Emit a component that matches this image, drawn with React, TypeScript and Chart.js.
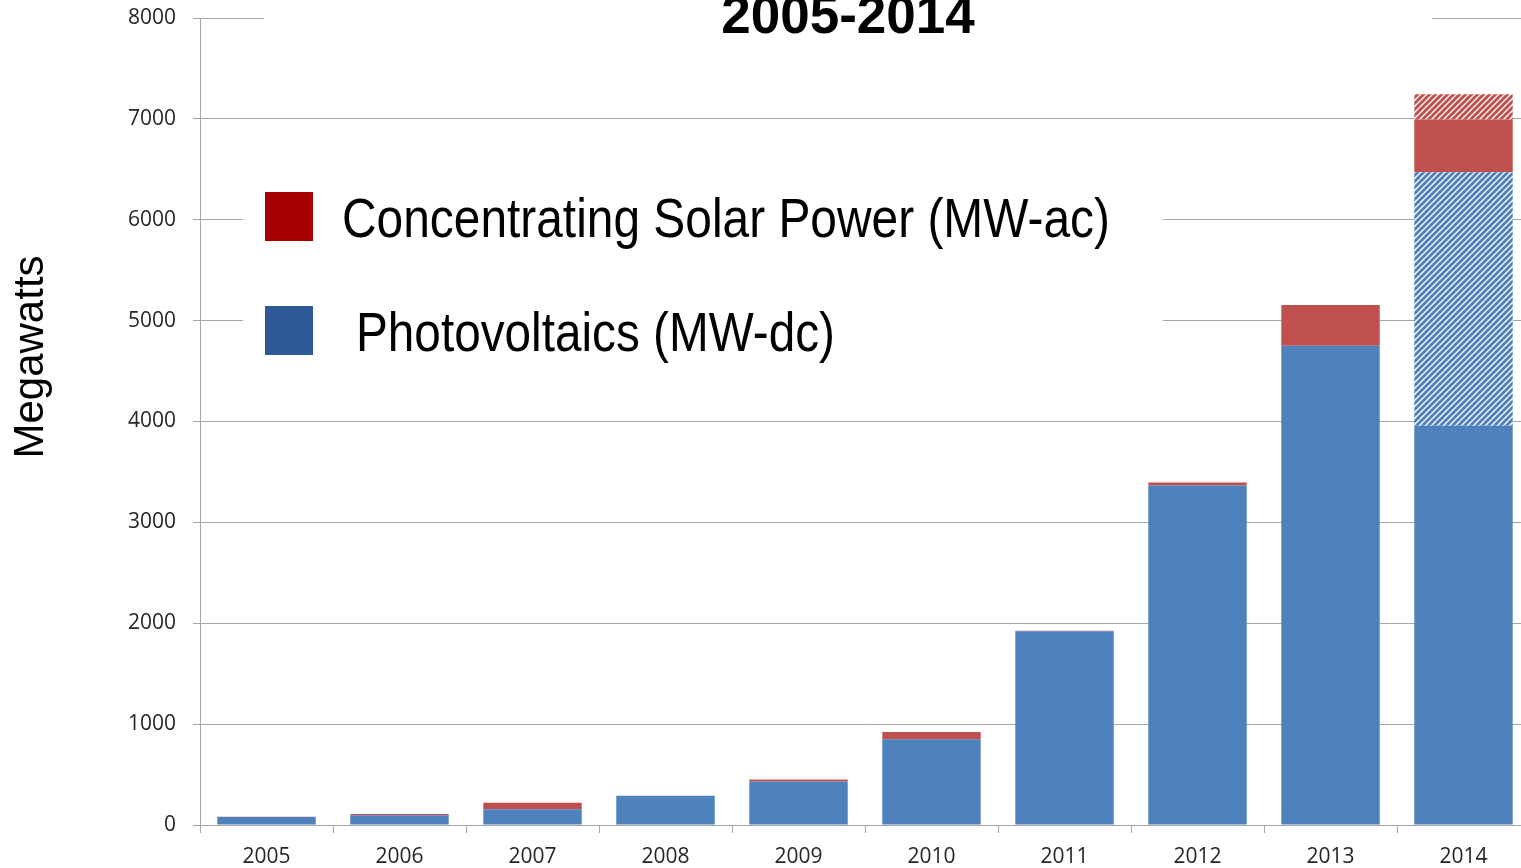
import React, { useEffect, useRef } from 'react';
import { Chart, registerables } from 'chart.js';

Chart.register(...registerables);

// ---------- data ----------
const years = ['2005', '2006', '2007', '2008', '2009', '2010', '2011', '2012', '2013', '2014'];
const pvInstalled = [80, 96, 155, 290, 430, 849, 1920, 3365, 4750, 3958];
const pvProjected = [0, 0, 0, 0, 0, 0, 0, 0, 0, 2512];
const cspInstalled = [1, 12, 65, 0, 20, 73, 5, 30, 404, 525];
const cspProjected = [0, 0, 0, 0, 0, 0, 0, 0, 0, 250];
const yMin = 0;
const yMax = 8000;
const yStep = 1000;
const titleText = '2005-2014';
const yAxisLabel = 'Megawatts';
const legendLabels = ['Concentrating Solar Power (MW-ac)', 'Photovoltaics (MW-dc)'];

// ---------- styles ----------
const PV_BLUE = '#4F81BD';
const CSP_RED = '#C0504D';
const LEGEND_RED = '#A50000';
const LEGEND_BLUE = '#2E5A98';
const GRID = '#A6A6A6';
const TICK_COLOR = '#262626';
const TICK_FONT = { family: '"Open Sans", "Liberation Sans", sans-serif', size: 21 };

function makeHatch(color: string): CanvasPattern | string {
  const s = 6;
  const c = document.createElement('canvas');
  c.width = s;
  c.height = s;
  const g = c.getContext('2d');
  if (!g) return color;
  g.fillStyle = '#ffffff';
  g.fillRect(0, 0, s, s);
  g.strokeStyle = color;
  g.lineWidth = 3;
  g.beginPath();
  g.moveTo(-1, s + 1);
  g.lineTo(s + 1, -1);
  g.moveTo(-s / 2 - 1, s / 2 + 1);
  g.lineTo(s / 2 + 1, -s / 2 - 1);
  g.moveTo(s / 2 - 1, s * 1.5 + 1);
  g.lineTo(s * 1.5 + 1, s / 2 - 1);
  g.stroke();
  return g.createPattern(c, 'repeat') || color;
}

function drawScaledText(ctx: CanvasRenderingContext2D, text: string, x: number, baseline: number, width: number) {
  const w = ctx.measureText(text).width;
  const sx = w > 0 ? width / w : 1;
  ctx.save();
  ctx.translate(x, baseline);
  ctx.scale(sx, 1);
  ctx.fillText(text, 0, 0);
  ctx.restore();
}

const decorPlugin = {
  id: 'decor',
  afterDraw(chart: any) {
    const ctx: CanvasRenderingContext2D = chart.ctx;
    ctx.save();

    // Title (partially clipped at top)
    ctx.fillStyle = '#ffffff';
    ctx.fillRect(264, 0, 1168, 36);
    ctx.fillStyle = '#000000';
    ctx.font = 'bold 53px "Liberation Sans", Arial, sans-serif';
    ctx.textAlign = 'center';
    ctx.textBaseline = 'alphabetic';
    ctx.fillText(titleText, 848, 33);

    // Y axis label
    ctx.save();
    ctx.translate(43, 357);
    ctx.rotate(-Math.PI / 2);
    ctx.font = '42px "Liberation Sans", Arial, sans-serif';
    ctx.textAlign = 'center';
    ctx.textBaseline = 'alphabetic';
    ctx.fillStyle = '#000000';
    ctx.fillText(yAxisLabel, 0, 0);
    ctx.restore();

    // Legend box
    ctx.fillStyle = '#ffffff';
    ctx.fillRect(243, 150, 920, 240);

    ctx.fillStyle = LEGEND_RED;
    ctx.fillRect(265, 192, 48, 49);
    ctx.fillStyle = LEGEND_BLUE;
    ctx.fillRect(265, 306, 48, 49);

    ctx.fillStyle = '#000000';
    ctx.font = '56px "Liberation Sans", Arial, sans-serif';
    ctx.textAlign = 'left';
    ctx.textBaseline = 'alphabetic';
    drawScaledText(ctx, legendLabels[0], 342, 237, 768);
    drawScaledText(ctx, legendLabels[1], 356, 351, 479);

    ctx.restore();
  },
};

export default function App() {
  const canvasRef = useRef<HTMLCanvasElement | null>(null);

  useEffect(() => {
    const canvas = canvasRef.current;
    if (!canvas) return;
    const pvHatch = makeHatch(PV_BLUE);
    const cspHatch = makeHatch(CSP_RED);

    const common = {
      stack: 'total',
      barPercentage: 0.74,
      categoryPercentage: 1.0,
      borderWidth: 0,
    };

    const chart = new Chart(canvas, {
      type: 'bar',
      data: {
        labels: years,
        datasets: [
          { label: 'Photovoltaics (MW-dc)', data: pvInstalled, backgroundColor: PV_BLUE, ...common },
          { label: 'Photovoltaics projected', data: pvProjected, backgroundColor: pvHatch as any, ...common },
          { label: 'Concentrating Solar Power (MW-ac)', data: cspInstalled, backgroundColor: CSP_RED, ...common },
          { label: 'CSP projected', data: cspProjected, backgroundColor: cspHatch as any, ...common },
        ],
      },
      options: {
        responsive: false,
        animation: false,
        devicePixelRatio: 1,
        layout: { padding: { top: 18, left: 0, right: 0, bottom: 0 } },
        plugins: {
          legend: { display: false },
          title: { display: false },
          tooltip: { enabled: false },
        },
        scales: {
          x: {
            stacked: true,
            offset: true,
            grid: {
              offset: true,
              drawOnChartArea: false,
              drawTicks: true,
              tickLength: 8,
              color: GRID,
            },
            border: { display: true, color: GRID },
            ticks: {
              color: TICK_COLOR,
              font: TICK_FONT,
              padding: 11,
              maxRotation: 0,
              autoSkip: false,
            },
            afterFit: (scale: any) => {
              scale.height = 43;
              scale.paddingLeft = 0;
              scale.paddingRight = 0;
            },
          },
          y: {
            stacked: true,
            min: yMin,
            max: yMax,
            grid: {
              color: GRID,
              tickLength: 7,
              drawTicks: true,
            },
            border: { display: true, color: GRID },
            ticks: {
              stepSize: yStep,
              color: TICK_COLOR,
              font: TICK_FONT,
              padding: 17,
              callback: (v: any) => String(v),
            },
            afterFit: (scale: any) => {
              scale.width = 200;
              scale.paddingTop = 0;
              scale.paddingBottom = 0;
            },
          },
        },
      },
      plugins: [decorPlugin],
    } as any);

    return () => {
      chart.destroy();
    };
  }, []);

  return (
    <div
      style={{
        position: 'fixed',
        left: 0,
        top: 0,
        width: 1521,
        height: 868,
        overflow: 'hidden',
        background: '#ffffff',
      }}
    >
      <canvas ref={canvasRef} width={1530} height={868} style={{ display: 'block' }} />
    </div>
  );
}
